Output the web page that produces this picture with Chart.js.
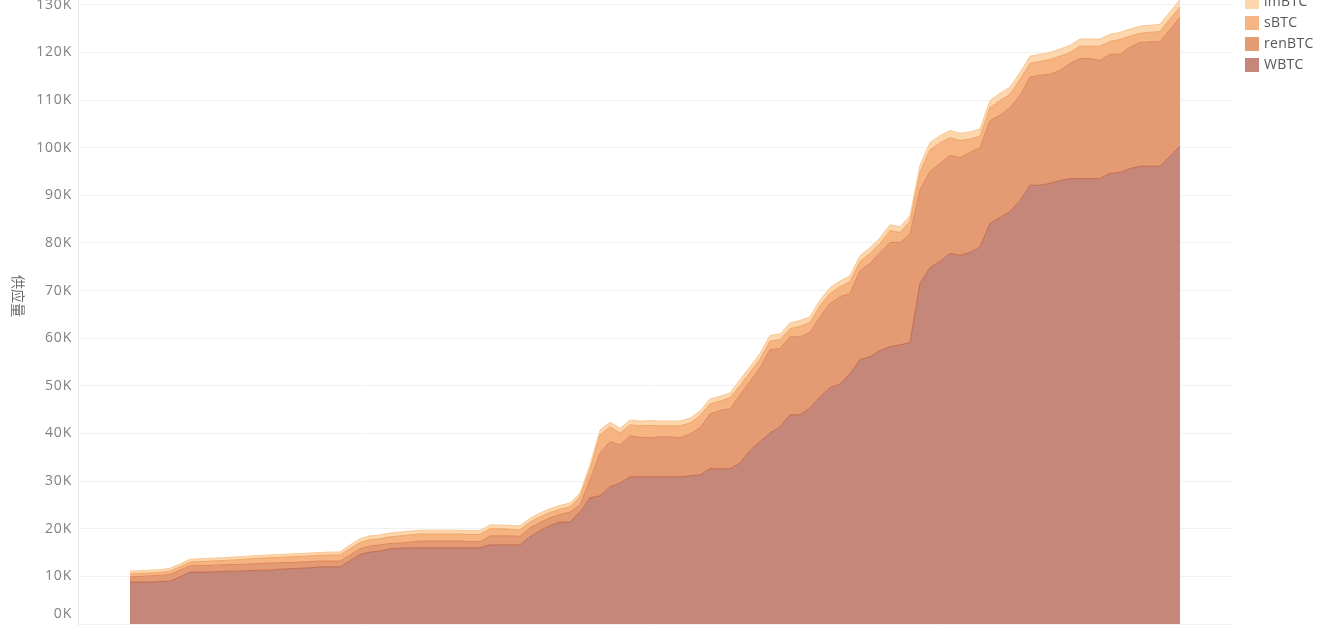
<!DOCTYPE html>
<html>
<head>
<meta charset="utf-8">
<script src="https://cdn.jsdelivr.net/npm/chart.js@4/dist/chart.umd.min.js"></script>
<style>
  body { margin: 0; background: #fff; overflow: hidden; }
  #wrap { position: relative; width: 1338px; height: 627px; }
  #legend { position: absolute; left: 1245px; top: -5px; font: 14px "Open Sans", sans-serif; color: #555; letter-spacing: 0.3px; }
  #legend div { height: 21px; display: flex; align-items: flex-start; }
  #legend span.sw { display: inline-block; width: 14px; height: 14px; margin-right: 5px; }
  #legend span.tx { line-height: 14px; margin-top: -1px; }
</style>
</head>
<body>
<div id="wrap">
  <canvas id="c" width="1338" height="627"></canvas>
  <div id="legend"></div>
</div>
<script>
// weekly points, supply in thousands of BTC
const weeks = Array.from({ length: 106 }, (_, i) => i);

const wbtc = [8.8,8.8,8.8,8.9,9.0,9.9,10.9,10.9,10.9,11.0,
  11.1,11.1,11.2,11.3,11.3,11.5,11.6,11.7,11.8,12.0,
  12.0,12.0,13.3,14.6,15.1,15.3,15.8,15.9,16.0,16.0,
  16.0,16.0,16.0,16.0,16.0,16.0,16.6,16.6,16.6,16.6,
  18.3,19.6,20.7,21.4,21.4,23.5,26.5,26.9,28.8,29.6,
  30.9,30.9,30.9,30.9,30.9,30.9,31.1,31.3,32.6,32.6,
  32.6,33.8,36.4,38.3,40.1,41.4,43.9,43.9,45.4,47.7,
  49.6,50.4,52.5,55.5,56.1,57.4,58.2,58.6,59.1,71.5,
  74.8,76.1,77.8,77.4,78.0,79.2,84.1,85.3,86.6,88.9,
  92.1,92.1,92.5,93.1,93.5,93.5,93.5,93.5,94.6,94.8,
  95.6,96.1,96.1,96.1,98.2,100.3];

const renbtc = [1.1,1.2,1.3,1.3,1.4,1.4,1.3,1.4,1.4,1.4,
  1.4,1.4,1.4,1.4,1.5,1.4,1.3,1.3,1.3,1.2,
  1.2,1.2,1.2,1.2,1.3,1.3,1.1,1.1,1.2,1.4,
  1.4,1.4,1.4,1.4,1.3,1.3,1.9,1.9,1.9,1.8,
  1.9,1.7,1.6,1.6,2.1,1.5,3.8,9.0,9.5,8.0,
  8.6,8.3,8.2,8.4,8.4,8.2,8.8,9.9,11.5,12.2,
  12.6,14.3,14.5,15.5,17.5,16.4,16.4,16.4,15.8,16.8,
  17.7,18.3,16.9,18.7,19.6,20.6,21.9,21.5,22.7,19.7,
  20.2,20.6,20.6,20.5,21.0,20.8,21.6,21.5,21.8,22.1,
  22.7,23.1,22.9,23.1,24.2,25.2,25.2,24.8,25.0,24.8,
  25.5,26.0,26.1,26.2,26.6,27.1];

const sbtc = [0.6,0.6,0.6,0.6,0.7,0.7,0.8,0.8,0.9,0.9,
  0.9,1.0,1.1,1.1,1.1,1.1,1.2,1.2,1.2,1.2,
  1.3,1.3,1.3,1.3,1.3,1.3,1.4,1.5,1.5,1.5,
  1.5,1.5,1.5,1.5,1.5,1.5,1.5,1.5,1.4,1.4,
  1.2,1.2,1.1,1.1,1.1,1.7,2.1,3.8,3.1,2.5,
  2.3,2.4,2.6,2.3,2.3,2.5,2.3,2.5,2.1,2.0,
  2.3,2.0,1.9,1.8,1.8,1.9,1.7,2.2,2.1,2.3,
  2.1,2.1,2.5,1.9,2.1,1.9,2.5,2.1,2.7,3.6,
  4.6,4.3,3.7,3.6,2.8,2.4,2.7,3.1,2.8,3.3,
  2.9,2.9,3.1,3.0,2.3,2.6,2.6,3.0,2.7,3.1,
  2.3,1.9,2.0,2.1,2.2,2.1];

const imbtc = [0.6,0.6,0.6,0.6,0.6,0.6,0.6,0.6,0.6,0.6,
  0.6,0.6,0.6,0.6,0.6,0.6,0.6,0.6,0.6,0.6,
  0.6,0.6,0.8,0.8,0.8,0.8,0.8,0.8,0.8,0.8,
  0.8,0.8,0.8,0.8,0.8,0.8,0.8,0.8,0.8,0.8,
  0.8,0.8,0.8,0.8,0.8,0.8,1.0,1.0,1.0,1.0,
  1.0,1.0,1.0,1.0,1.0,1.0,1.0,1.0,1.0,1.0,
  1.0,1.2,1.2,1.2,1.2,1.2,1.2,1.2,1.2,1.2,
  1.2,1.2,1.2,1.2,1.2,1.2,1.2,1.2,1.2,1.5,
  1.5,1.5,1.5,1.5,1.5,1.5,1.5,1.5,1.5,1.5,
  1.5,1.5,1.5,1.5,1.5,1.5,1.5,1.5,1.5,1.5,
  1.5,1.5,1.5,1.5,1.5,1.6];

const yTicks = [0,10,20,30,40,50,60,70,80,90,100,110,120,130];

const series = [
  { label: 'WBTC', data: wbtc, fill: '#c4877a', line: '#c46c4e' },
  { label: 'renBTC', data: renbtc, fill: '#e49a72', line: '#e0875a' },
  { label: 'sBTC', data: sbtc, fill: '#f5b481', line: '#f0a466' },
  { label: 'imBTC', data: imbtc, fill: '#fcd6ac', line: '#f8c794' }
];

const legend = document.getElementById('legend');
series.slice().reverse().forEach(s => {
  const row = document.createElement('div');
  row.innerHTML = '<span class="sw" style="background:' + s.fill + '"></span><span class="tx">' + s.label + '</span>';
  legend.appendChild(row);
});

const axisText = {
  id: 'axisText',
  afterDraw(chart) {
    const ctx = chart.ctx;
    const y = chart.scales.y;
    ctx.save();
    ctx.font = '14px "Open Sans"';
    ctx.letterSpacing = '0.8px';
    ctx.fillStyle = '#808080';
    ctx.textAlign = 'right';
    ctx.textBaseline = 'middle';
    yTicks.forEach(v => {
      const py = Math.min(y.getPixelForValue(v), 614);
      ctx.fillText(v + 'K', 72, py);
    });
    ctx.letterSpacing = '0px';
    ctx.translate(18, 296);
    ctx.rotate(Math.PI / 2);
    ctx.font = '14px "Noto Sans CJK SC"';
    ctx.fillStyle = '#6a6a6a';
    ctx.textAlign = 'center';
    ctx.fillText('供应量', 0, 0);
    ctx.restore();
  }
};

new Chart(document.getElementById('c'), {
  type: 'line',
  data: {
    labels: weeks,
    datasets: series.map((s, i) => ({
      label: s.label,
      data: s.data,
      backgroundColor: s.fill,
      borderColor: s.line,
      borderWidth: 1,
      pointRadius: 0,
      tension: 0,
      fill: i === 0 ? 'origin' : '-1'
    }))
  },
  options: {
    responsive: false,
    animation: false,
    layout: { padding: { left: 0, right: 106, top: 0, bottom: 3 } },
    plugins: { legend: { display: false }, tooltip: { enabled: false } },
    scales: {
      x: {
        type: 'linear',
        min: -5.2,
        max: 110.2,
        display: false
      },
      y: {
        stacked: true,
        min: 0,
        max: 131,
        z: 1,
        ticks: { display: false, stepSize: 10, includeBounds: false },
        grid: { color: 'rgba(0,0,0,0.055)', drawTicks: false },
        border: { display: true, color: '#e6e6e6' },
        afterFit: s => { s.width = 78; s.paddingTop = 0; s.paddingBottom = 0; }
      }
    }
  },
  plugins: [axisText]
});
</script>
</body>
</html>
